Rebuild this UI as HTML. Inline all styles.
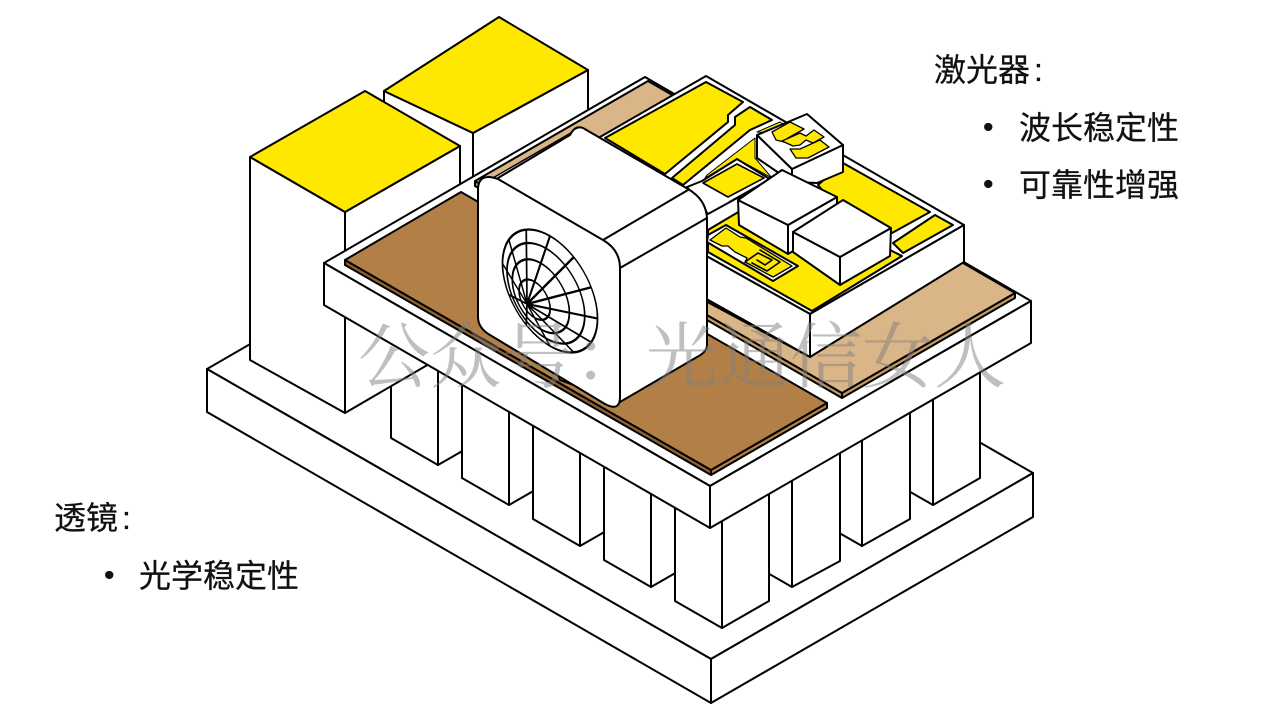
<!DOCTYPE html>
<html><head><meta charset="utf-8"><style>
html,body{margin:0;padding:0;background:#fff}
svg{display:block}
.l{stroke:#000;stroke-width:2;stroke-linejoin:round;stroke-linecap:round}
.w{fill:#fff}.y{fill:#ffe800}.t{fill:#d9b588}.b{fill:#b27f47}.tb{fill:#c49a66}.bb{fill:#8f6232}
.n{fill:none}
text{font-family:"Liberation Sans","Noto Sans CJK SC",sans-serif;font-size:32px;fill:#111;stroke:#111;stroke-width:.25}
.bu{font-family:"Liberation Sans",sans-serif;font-size:30px}
.wm{font-family:"Noto Serif CJK SC",serif;font-size:72px;fill:#808080;fill-opacity:.5;stroke:none}
</style></head><body>
<svg width="1280" height="720" viewBox="0 0 1280 720" xmlns="http://www.w3.org/2000/svg">
<rect width="1280" height="720" fill="#fff"/>
<g class="l">
<!-- base -->
<polygon class="w" points="207,369 529,183 1033,473 711,659"/>
<polygon class="w" points="207,369 711,659 711,703 207,412"/>
<polygon class="w" points="711,659 1033,473 1033,517 711,703"/>
<!-- right-row pillars -->
<polygon class="w" points="886,300 933,300 933,505 886,478"/><polygon class="w" points="933,300 980,300 980,478 933,505"/>
<polygon class="w" points="815,300 862,300 862,546 815,519"/><polygon class="w" points="862,300 910,300 910,519 862,546"/>
<polygon class="w" points="745,300 792,300 792,587 745,560"/><polygon class="w" points="792,300 840,300 840,561 792,587"/>
<!-- left-row pillars -->
<polygon class="w" points="438,300 485,300 485,438 438,465"/><polygon class="w" points="391,300 438,300 438,465 391,438"/>
<polygon class="w" points="509,300 556,300 556,478 509,505"/><polygon class="w" points="462,300 509,300 509,505 462,478"/>
<polygon class="w" points="580,300 627,300 627,519 580,546"/><polygon class="w" points="533,300 580,300 580,546 533,519"/>
<polygon class="w" points="651,300 698,300 698,560 651,587"/><polygon class="w" points="604,300 651,300 651,587 604,560"/>
<polygon class="w" points="722,300 769,300 769,601 722,628"/><polygon class="w" points="675,300 722,300 722,628 675,601"/>
<!-- back block -->
<polygon class="w" points="384,91 473,133 473,320 384,260"/>
<polygon class="w" points="473,133 588,70 588,250 473,316"/>
<polygon class="y" points="384,91 499,17 588,70 473,133"/>
<!-- front block -->
<polygon class="w" points="250,157 345,212 345,413 250,360"/>
<polygon class="w" points="345,212 460,146 460,346 345,413"/>
<polygon class="y" points="250,157 365,91 460,146 345,212"/>
<!-- top plate -->
<polygon class="w" points="324,263 645,77 1031,301 710,486"/>
<polygon class="w" points="324,263 710,486 710,528 324,305"/>
<polygon class="w" points="710,486 1031,301 1031,343 710,528"/>
<!-- tan plate -->
<polygon class="tb" points="475,181 842,393 842,398 475,186"/>
<polygon class="tb" points="842,393 1015,293 1015,298 842,398"/>
<polygon class="t" points="475,181 648,81 1015,293 842,393"/>
<polygon class="w" points="479,186 576,130 590,135 500,190" style="stroke-width:1.5"/>
<!-- brown plate -->
<polygon class="bb" points="345,260 711,470 711,475 345,265"/>
<polygon class="b" points="711,470 827,403 827,408 711,475"/>
<polygon class="b" points="345,260 461,192 827,403 711,470"/>
<!-- carrier -->
<polygon class="w" points="600,137 706,76 964,225 810,314 660,230"/>
<polygon class="w" points="660,230 810,314 810,357 660,273"/>
<polygon class="w" points="810,314 964,225 964,262 810,357"/>
<line x1="700" y1="298" x2="810" y2="357"/>
<!-- pads -->
<polygon class="y" points="605,138 706,82 743,102 728,115 728,122 665,174"/>
<polygon class="y" points="672,178 735,125 735,117 750,107 772,120 750,130 683,185"/>
<polygon class="y" points="707,175 755,138 755,158 772,178 737,159 705,178" style="stroke-width:1"/>
<polygon class="w" points="687,187 702,181 737,159 768,178 772,179 708,214"/>
<polygon class="y" points="703,183 737,164 764,178 728,197" style="stroke-width:1.6"/>
<line x1="768" y1="180" x2="729" y2="202" style="stroke-width:1.4"/>
<polygon class="y" points="780,122 786,126 770,133 757,132" style="stroke-width:1"/>
<polygon class="y" points="818,185 843,163 930,212 892,233 835,205"/>
<polygon class="y" points="935,215 953,225 903,253 893,243"/>
<polygon class="y" points="708,230 745,208 840,262 890,250 902,256 812,311 708,252"/>
<!-- meander -->
<polygon class="w" points="708,235 726,225 798,266 773,281 707,242"/>
<polygon class="y" points="710,240 726,228 740,237 746,238 792,266 773,277 745,262 747,258 735,252 728,246 722,246" style="stroke-width:1.3"/>
<path class="n" d="M745,262 L758,253 L772,260 L765,265 L757,260 M752,263 L767,271 L780,262 L760,250" style="stroke-width:1.6"/>
<!-- chip -->
<polygon class="w" points="757,135 757,158 792,182 792,169"/>
<polygon class="w" points="792,169 843,145 843,172 817,183 792,182"/>
<polygon class="w" points="757,135 807,114 843,145 792,169"/>
<polygon class="y" points="772,132 790,122 804,129 788,138 784,142 776,140" style="stroke-width:1.3"/>
<polygon class="y" points="782,141 800,133 806,136 814,130 824,137 813,143 806,140 800,145 793,146" style="stroke-width:1.3"/>
<polygon class="y" points="790,149 800,149 820,140 829,147 808,158 796,158" style="stroke-width:1.3"/>
<!-- block 1 -->
<polygon class="w" points="738,200 788,225 788,254 739,225"/>
<polygon class="w" points="788,225 837,197 837,225 788,254"/>
<polygon class="w" points="738,200 782,170 837,197 788,225"/>
<!-- block 2 -->
<polygon class="w" points="793,232 840,257 840,285 793,252"/>
<polygon class="w" points="840,257 891,228 890,256 840,285"/>
<polygon class="w" points="793,232 843,200 891,228 840,257"/>
<!-- cube body -->
<path class="w" d="M498,178 L570,135 Q575,125 583,128 L688,189 Q707,200 707,220 L707,345 Q707,352 697,357 L620,402 L560,380 L500,200 Z"/>
<line x1="603" y1="240" x2="688" y2="190"/>
<line x1="620" y1="268" x2="707" y2="218"/>
<!-- cube front -->
<path class="w" d="M478,190 Q478,172 498,179 L603,240 Q620,250 620,268 L620,397 Q620,412 605,404 L490,335 Q478,328 478,317 Z"/>
</g>
<!-- lens -->
<g transform="matrix(0.864,0.5,0,1,550,291)" fill="none" stroke="#000" stroke-width="2">
<circle cx="0" cy="0" r="55" fill="#fff"/>
<circle cx="-17.8" cy="17.6" r="18"/>
<circle cx="-10.6" cy="10.5" r="33"/>
<circle cx="-4.8" cy="4.7" r="45"/>
<path d="M-26.6,26.3 L55,0 M-26.6,26.3 L47.6,27.5 M-26.6,26.3 L27.5,47.6 M-26.6,26.3 L0,55 M-26.6,26.3 L-27.5,47.6 M-26.6,26.3 L-47.6,27.5 M-26.6,26.3 L-55,0 M-26.6,26.3 L-47.6,-27.5 M-26.6,26.3 L-27.5,-47.6 M-26.6,26.3 L0,-55 M-26.6,26.3 L27.5,-47.6 M-26.6,26.3 L47.6,-27.5"/>
</g>
<!-- watermark -->
<text class="wm" x="358" y="382">公众号：光通信女人</text>
<!-- labels -->
<text x="934" y="81">激光器<tspan dx="4">:</tspan></text>
<text class="bu" x="983" y="137">•</text>
<text x="1019" y="139">波长稳定性</text>
<text class="bu" x="983" y="194">•</text>
<text x="1019" y="196">可靠性增强</text>
<text x="54" y="529">透镜<tspan dx="4">:</tspan></text>
<text class="bu" x="104" y="585">•</text>
<text x="139" y="587">光学稳定性</text>
</svg>
</body></html>
